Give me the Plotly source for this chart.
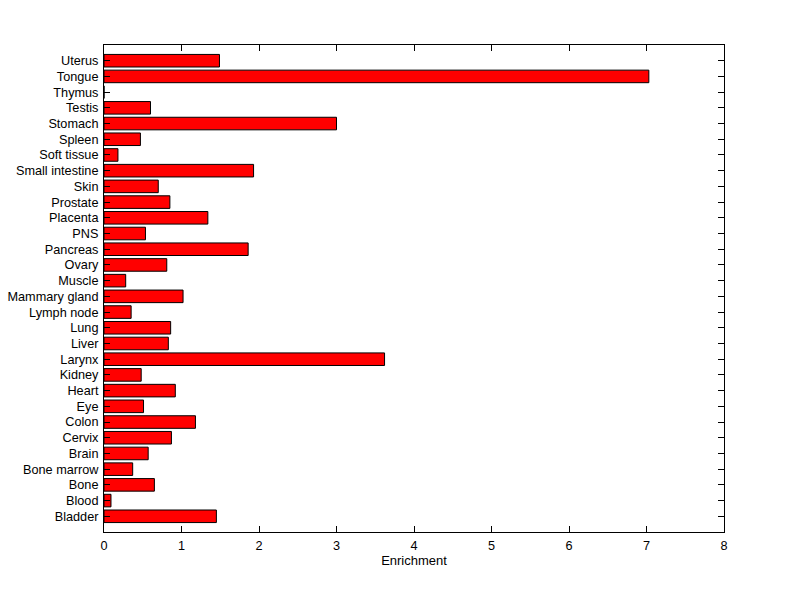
import plotly.graph_objects as go

tissues = ["Bladder", "Blood", "Bone", "Bone marrow", "Brain", "Cervix", "Colon", "Eye",
           "Heart", "Kidney", "Larynx", "Liver", "Lung", "Lymph node", "Mammary gland",
           "Muscle", "Ovary", "Pancreas", "PNS", "Placenta", "Prostate", "Skin",
           "Small intestine", "Soft tissue", "Spleen", "Stomach", "Testis", "Thymus",
           "Tongue", "Uterus"]
enrichment = [1.45, 0.09, 0.65, 0.37, 0.57, 0.87, 1.18, 0.51,
              0.92, 0.48, 3.62, 0.83, 0.86, 0.35, 1.02,
              0.28, 0.81, 1.86, 0.535, 1.34, 0.85, 0.70,
              1.93, 0.18, 0.47, 3.00, 0.60, 0.0,
              7.03, 1.49]
positions = list(range(1, len(tissues) + 1))
x_ticks = [0, 1, 2, 3, 4, 5, 6, 7, 8]

fig = go.Figure()
fig.add_trace(go.Bar(
    x=enrichment, y=positions, orientation="h", width=0.8,
    marker=dict(color="#ff0000", line=dict(color="black", width=1)),
))

fig.update_layout(
    width=800, height=599,
    margin=dict(l=104, r=76, t=45, b=67, autoexpand=False),
    paper_bgcolor="white", plot_bgcolor="white",
    font=dict(family="Liberation Sans, Arial, sans-serif", size=12.7, color="black"),
    showlegend=False,
    xaxis=dict(range=[0, 8], tickvals=x_ticks, ticks="inside", ticklen=6,
               tickcolor="black", showline=True, linecolor="black", linewidth=1,
               mirror="ticks", showgrid=False, zeroline=False, ticklabelstandoff=2,
               title=dict(text="Enrichment", standoff=3, font=dict(size=13))),
    yaxis=dict(range=[0, 31], tickvals=positions, ticktext=tissues, ticks="inside",
               ticklen=6, tickcolor="black", showline=True, linecolor="black",
               linewidth=1, mirror="ticks", showgrid=False, zeroline=False,
               ticklabelstandoff=2),
)

# remove the page's default body margin so the figure sits at the window's top-left corner
fig.write_html("out.html", config={"displayModeBar": False},
               post_script="document.body.style.margin='0';")
